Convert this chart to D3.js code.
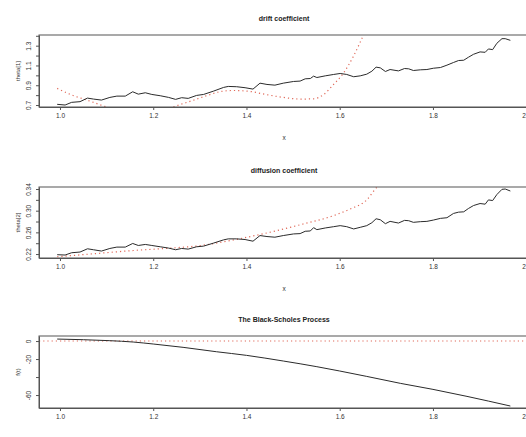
<!DOCTYPE html>
<html>
<head>
<meta charset="utf-8">
<script src="https://cdn.jsdelivr.net/npm/d3@7"></script>
<style>
  body { margin: 0; background: #fff; }
  svg { display: block; font-family: "Liberation Sans", Arial, sans-serif; }
</style>
</head>
<body>
<div id="chart"></div>
<script>
// x ticks shared by all three panels
var xTicks = [1.0, 1.2, 1.4, 1.6, 1.8, 2.0];

// drift coefficient: estimate (solid) and fitted curve (dotted)
var driftX = [0.994, 1.011, 1.025, 1.043, 1.059, 1.072, 1.089, 1.107, 1.122, 1.14, 1.156, 1.168, 1.183, 1.197, 1.215, 1.233, 1.248, 1.261, 1.275, 1.293, 1.308, 1.329, 1.351, 1.361, 1.379, 1.397, 1.414, 1.429, 1.444, 1.461, 1.479, 1.501, 1.515, 1.526, 1.537, 1.544, 1.551, 1.569, 1.587, 1.601, 1.615, 1.63, 1.644, 1.658, 1.669, 1.678, 1.687, 1.698, 1.708, 1.726, 1.739, 1.748, 1.758, 1.773, 1.787, 1.801, 1.816, 1.83, 1.844, 1.855, 1.866, 1.876, 1.887, 1.901, 1.912, 1.919, 1.928, 1.937, 1.948, 1.955, 1.966];
var driftY = [0.707, 0.70, 0.727, 0.734, 0.77, 0.76, 0.75, 0.777, 0.79, 0.79, 0.834, 0.81, 0.824, 0.807, 0.794, 0.777, 0.757, 0.774, 0.767, 0.797, 0.807, 0.84, 0.878, 0.888, 0.885, 0.875, 0.861, 0.921, 0.908, 0.901, 0.921, 0.938, 0.942, 0.965, 0.968, 0.992, 0.978, 0.995, 1.009, 1.019, 1.009, 0.986, 0.995, 1.012, 1.042, 1.083, 1.076, 1.039, 1.059, 1.045, 1.069, 1.066, 1.049, 1.056, 1.059, 1.072, 1.079, 1.103, 1.13, 1.15, 1.153, 1.183, 1.213, 1.237, 1.233, 1.267, 1.26, 1.324, 1.371, 1.371, 1.354];
var driftFitX = [0.994, 1.024, 1.06, 1.096, 1.13, 1.17, 1.21, 1.246, 1.289, 1.318, 1.343, 1.371, 1.408, 1.444, 1.479, 1.515, 1.544, 1.565, 1.586, 1.608, 1.629, 1.651, 1.66];
var driftFitY = [0.868, 0.804, 0.746, 0.686, 0.63, 0.605, 0.625, 0.686, 0.753, 0.80, 0.835, 0.847, 0.837, 0.804, 0.777, 0.760, 0.763, 0.804, 0.904, 1.022, 1.189, 1.408, 1.50];
var driftTicks = [0.7, 0.8, 0.9, 1.0, 1.1, 1.2, 1.3, 1.4];
var driftTickLabels = ["0.7", "", "0.9", "", "1.1", "", "1.3", ""];

// diffusion coefficient
var diffY = [0.2188, 0.2182, 0.2224, 0.2237, 0.2297, 0.2279, 0.2255, 0.2303, 0.2328, 0.2328, 0.2395, 0.2358, 0.2377, 0.2358, 0.2334, 0.2310, 0.2279, 0.2303, 0.2291, 0.2334, 0.2346, 0.2401, 0.2462, 0.2480, 0.2480, 0.2468, 0.2437, 0.2541, 0.2523, 0.2511, 0.2541, 0.2571, 0.2577, 0.2620, 0.2626, 0.2687, 0.2650, 0.2681, 0.2705, 0.2724, 0.2705, 0.2663, 0.2693, 0.2724, 0.2778, 0.2851, 0.2833, 0.2760, 0.2803, 0.2772, 0.2821, 0.2815, 0.2785, 0.2797, 0.2803, 0.2827, 0.2858, 0.2870, 0.2949, 0.2973, 0.2979, 0.3040, 0.3095, 0.3132, 0.3120, 0.3199, 0.3187, 0.3297, 0.3394, 0.3400, 0.3363];
var diffFitX = [0.994, 1.086, 1.157, 1.229, 1.300, 1.372, 1.444, 1.515, 1.587, 1.622, 1.658, 1.680, 1.70];
var diffFitY = [0.2150, 0.2215, 0.2265, 0.2305, 0.2355, 0.2460, 0.2590, 0.2740, 0.2910, 0.3030, 0.3200, 0.3437, 0.358];
var diffTicks = [0.22, 0.24, 0.26, 0.28, 0.30, 0.32, 0.34];
var diffTickLabels = ["0.22", "", "0.26", "", "0.30", "", "0.34"];

// Black-Scholes process
var bsX = [0.994, 1.05, 1.107, 1.157, 1.2, 1.264, 1.336, 1.4, 1.479, 1.551, 1.6, 1.658, 1.73, 1.8, 1.873, 1.966];
var bsY = [2.2, 1.5, 0.4, -1.1, -3.3, -7.0, -11.9, -15.9, -22.2, -28.5, -33.3, -39.3, -47, -53.7, -61.5, -72.2];
var bsRef = 0;
var bsTicks = [0, -20, -40, -60];
var bsTickLabels = ["0", "-20", "", "-60"];

var width = 526, height = 437;
var svg = d3.select("#chart").append("svg")
  .attr("width", width).attr("height", height);

var xScale = d3.scaleLinear().domain([0.955, 2.006]).range([39, 529]);
var lineCol = "#2b2b2b", fitCol = "#e06a5a", txtCol = "#333";

function drawPanel(p, id) {
  var y = d3.scaleLinear().domain(p.ydom).range([p.bottom, p.top]);
  var g = svg.append("g");

  g.append("clipPath").attr("id", "clip" + id)
    .append("rect").attr("x", 39).attr("y", p.top)
    .attr("width", 490).attr("height", p.bottom - p.top);

  var line = d3.line().x(d => xScale(d[0])).y(d => y(d[1]));
  var plot = g.append("g").attr("clip-path", "url(#clip" + id + ")");

  if (p.ref !== undefined) {
    plot.append("line")
      .attr("x1", 39).attr("x2", 529)
      .attr("y1", y(p.ref)).attr("y2", y(p.ref))
      .attr("stroke", fitCol).attr("stroke-width", 1.1)
      .attr("stroke-dasharray", "1.2,3");
  }
  if (p.fitX) {
    plot.append("path").datum(d3.zip(p.fitX, p.fitY))
      .attr("d", line.curve(d3.curveMonotoneX))
      .attr("fill", "none").attr("stroke", fitCol)
      .attr("stroke-width", 1.2).attr("stroke-dasharray", "1.2,3");
  }
  plot.append("path").datum(d3.zip(p.x, p.y))
    .attr("d", d3.line().x(d => xScale(d[0])).y(d => y(d[1])).curve(p.smooth ? d3.curveMonotoneX : d3.curveLinear))
    .attr("fill", "none").attr("stroke", lineCol).attr("stroke-width", 1);

  // box
  g.append("rect").attr("x", 39).attr("y", p.top)
    .attr("width", 490).attr("height", p.bottom - p.top)
    .attr("fill", "none").attr("stroke", "#555").attr("stroke-width", 1);

  // x axis
  var xa = g.append("g").attr("transform", "translate(0," + p.bottom + ")")
    .call(d3.axisBottom(xScale).tickValues(xTicks).tickFormat(d3.format(".1f"))
      .tickSize(3).tickSizeOuter(0).tickPadding(3));
  xa.select(".domain").attr("stroke", "#555");
  xa.selectAll("line").attr("stroke", "#555");
  xa.selectAll("text").attr("fill", txtCol).style("font-size", "6.5px");

  // y axis
  var ya = g.append("g").attr("transform", "translate(39,0)")
    .call(d3.axisLeft(y).tickValues(p.ticks).tickFormat((d, i) => p.tickLabels[i])
      .tickSize(3).tickSizeOuter(0).tickPadding(0));
  ya.select(".domain").attr("stroke", "#555");
  ya.selectAll("line").attr("stroke", "#555");
  ya.selectAll("text").attr("fill", txtCol).style("font-size", "6.5px")
    .attr("x", null).attr("dy", null)
    .attr("text-anchor", "middle")
    .attr("transform", "translate(-8,0) rotate(-90)");

  g.append("text").attr("x", 284).attr("y", p.top - 14)
    .attr("text-anchor", "middle").attr("font-weight", "bold")
    .attr("fill", "#222").style("font-size", "7px").text(p.title);
  g.append("text").attr("x", 284).attr("y", p.bottom + 33)
    .attr("text-anchor", "middle").attr("fill", txtCol)
    .style("font-size", "6.5px").text("x");
  g.append("text")
    .attr("transform", "translate(20," + (p.top + p.bottom) / 2 + ") rotate(-90)")
    .attr("text-anchor", "middle").attr("fill", txtCol)
    .style("font-size", "6px").text(p.ylab);
}

drawPanel({ title: "drift coefficient", ylab: "theta[1]", top: 35, bottom: 107, ydom: [0.68, 1.408],
  x: driftX, y: driftY, fitX: driftFitX, fitY: driftFitY, ticks: driftTicks, tickLabels: driftTickLabels }, 1);
drawPanel({ title: "diffusion coefficient", ylab: "theta[2]", top: 187, bottom: 258, ydom: [0.2127, 0.3437],
  x: driftX, y: diffY, fitX: diffFitX, fitY: diffFitY, ticks: diffTicks, tickLabels: diffTickLabels }, 2);
drawPanel({ title: "The Black-Scholes Process", ylab: "f(t)", top: 336, bottom: 408, ydom: [-74.4, 5.6],
  x: bsX, y: bsY, smooth: true, ref: bsRef, ticks: bsTicks, tickLabels: bsTickLabels }, 3);
</script>
</body>
</html>
